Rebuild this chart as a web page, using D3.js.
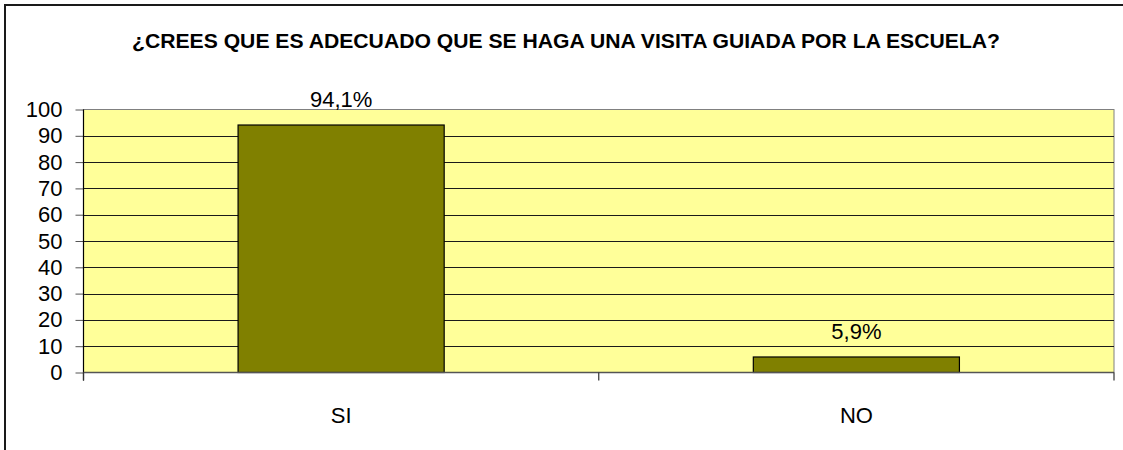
<!DOCTYPE html>
<html>
<head>
<meta charset="utf-8">
<script src="https://cdn.jsdelivr.net/npm/d3@7"></script>
<style>
  html, body { margin: 0; padding: 0; background: #fff; }
  svg { display: block; }
</style>
</head>
<body>
<svg id="chart" width="1123" height="450"></svg>
<script>
// Chart content
const titleText = "¿CREES QUE ES ADECUADO QUE SE HAGA UNA VISITA GUIADA POR LA ESCUELA?";
const categories = ["SI", "NO"];
const values = [94.1, 5.9];
const valueLabels = ["94,1%", "5,9%"];
const yTicks = [0, 10, 20, 30, 40, 50, 60, 70, 80, 90, 100];

const svg = d3.select("#chart");
const W = 1123, H = 450;
const font = "'Liberation Sans', Arial, sans-serif";
const labelSize = 22;

// Outer chart frame (runs past right and bottom edges)
svg.append("rect")
  .attr("x", 5).attr("y", 5)
  .attr("width", W + 10).attr("height", H + 10)
  .attr("fill", "#fff")
  .attr("stroke", "#1a1a1a")
  .attr("stroke-width", 2);

// Title
svg.append("text")
  .attr("x", 566).attr("y", 48)
  .attr("text-anchor", "middle")
  .attr("font-family", font)
  .attr("font-weight", "bold")
  .attr("font-size", 20)
  .attr("textLength", 868)
  .attr("lengthAdjust", "spacingAndGlyphs")
  .attr("fill", "#000")
  .text(titleText);

const plot = { left: 83.5, right: 1114, top: 109.5, bottom: 372.5 };

const x = d3.scaleBand()
  .domain(categories)
  .range([plot.left, plot.right])
  .paddingInner(0.6)
  .paddingOuter(0.3);

const y = d3.scaleLinear()
  .domain([0, 100])
  .range([plot.bottom, plot.top]);

// Plot background
svg.append("rect")
  .attr("x", plot.left).attr("y", plot.top)
  .attr("width", plot.right - plot.left)
  .attr("height", plot.bottom - plot.top)
  .attr("fill", "#FFFF99")
  .attr("stroke", "#808080")
  .attr("stroke-width", 1);

// Horizontal gridlines
svg.append("g")
  .selectAll("line")
  .data(yTicks.filter(d => d > 0 && d < 100))
  .join("line")
  .attr("x1", plot.left).attr("x2", plot.right)
  .attr("y1", d => Math.round(y(d)) + 0.5)
  .attr("y2", d => Math.round(y(d)) + 0.5)
  .attr("stroke", "#1a1a1a")
  .attr("stroke-width", 1);

// Y axis
const yAxis = d3.axisLeft(y)
  .tickValues(yTicks)
  .tickSize(8)
  .tickPadding(13)
  .tickFormat(d3.format("d"));

const gy = svg.append("g")
  .attr("transform", `translate(${plot.left},0)`)
  .call(yAxis);
gy.select(".domain").remove();
gy.selectAll(".tick line").attr("stroke", "#555");
gy.selectAll(".tick text")
  .attr("font-family", font)
  .attr("font-size", labelSize)
  .attr("fill", "#000");

// Left axis line, extending past the baseline
svg.append("line")
  .attr("x1", plot.left).attr("x2", plot.left)
  .attr("y1", plot.top).attr("y2", plot.bottom + 8)
  .attr("stroke", "#000").attr("stroke-width", 1.2);

// Bars
svg.append("g")
  .selectAll("rect")
  .data(values)
  .join("rect")
  .attr("x", (d, i) => x(categories[i]))
  .attr("y", d => y(d))
  .attr("width", x.bandwidth())
  .attr("height", d => y(0) - y(d))
  .attr("fill", "#808000")
  .attr("stroke", "#000")
  .attr("stroke-width", 1.2);

// Value labels
svg.append("g")
  .selectAll("text")
  .data(values)
  .join("text")
  .attr("x", (d, i) => x(categories[i]) + x.bandwidth() / 2)
  .attr("y", d => y(d) - 18)
  .attr("text-anchor", "middle")
  .attr("font-family", font)
  .attr("font-size", labelSize)
  .attr("fill", "#000")
  .text((d, i) => valueLabels[i]);

// X axis baseline and category separators
const step = (plot.right - plot.left) / categories.length;
svg.append("line")
  .attr("x1", plot.left).attr("x2", plot.right)
  .attr("y1", plot.bottom).attr("y2", plot.bottom)
  .attr("stroke", "#555").attr("stroke-width", 1.5);
svg.append("g")
  .selectAll("line")
  .data(d3.range(categories.length + 1))
  .join("line")
  .attr("x1", i => plot.left + i * step)
  .attr("x2", i => plot.left + i * step)
  .attr("y1", plot.bottom).attr("y2", plot.bottom + 8)
  .attr("stroke", "#333").attr("stroke-width", 1.2);

// Category labels
svg.append("g")
  .selectAll("text")
  .data(categories)
  .join("text")
  .attr("x", d => x(d) + x.bandwidth() / 2)
  .attr("y", 423)
  .attr("text-anchor", "middle")
  .attr("font-family", font)
  .attr("font-size", labelSize)
  .attr("fill", "#000")
  .text(d => d);
</script>
</body>
</html>
